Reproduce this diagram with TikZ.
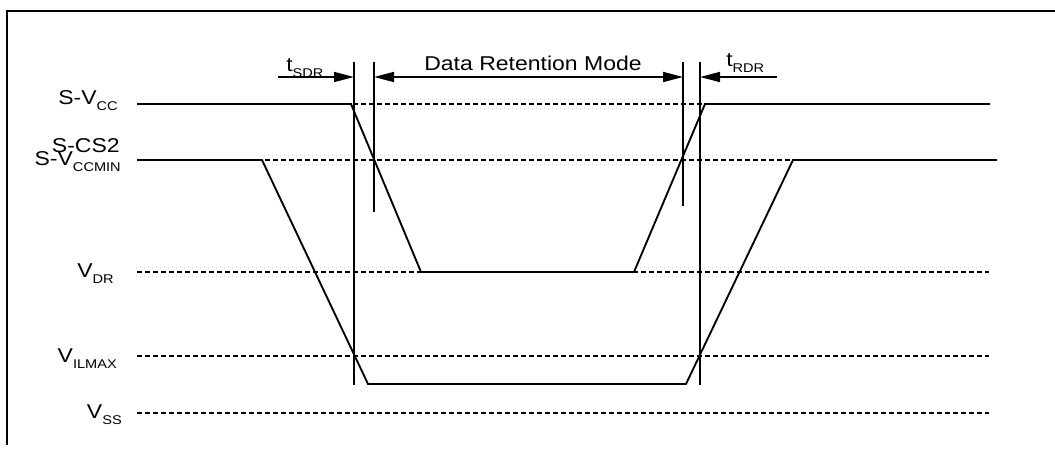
\documentclass[tikz,border=0pt]{standalone}
\usepackage{fontspec}
\setmainfont{Liberation Sans}[FakeStretch=1.15]
\usetikzlibrary{arrows.meta}
\newcommand\lsub[1]{\raisebox{-4.5pt}{\fontsize{9.5pt}{10pt}\selectfont #1}}
\begin{document}
\begin{tikzpicture}[x=0.75pt,y=-0.75pt,
  sig/.style={line width=1.4pt},
  refl/.style={line width=1.3pt, dash pattern=on 3.75pt off 2.25pt},
  vline/.style={line width=1.4pt},
  lab/.style={anchor=base east, inner sep=0pt, font=\fontsize{15pt}{18pt}\selectfont},
  toplab/.style={anchor=base, inner sep=0pt, font=\fontsize{15pt}{18pt}\selectfont},
  tip/.tip={Triangle[length=15pt,width=7.5pt]},
  arr/.style={line width=1.2pt,-tip},
  darr/.style={line width=1.2pt,tip-tip}]
\useasboundingbox (0,0) rectangle (1055,449);
% frame
\coordinate (fr1) at (1055,11);
\coordinate (fr2) at (7,11);
\coordinate (fr3) at (7,445);
\draw[line width=1.6pt] (fr1) -- (fr2) -- (fr3);

% reference levels
\foreach \n/\y in {vcc/104, vccmin/160, vdr/272, vil/356, vss/413}{
  \coordinate (\n L) at (137,\y);
  \coordinate (\n R) at (989,\y);
  \draw[refl] (\n L) -- (\n R);
}

% signal S-VCC
\coordinate (a1) at (351,104);
\coordinate (a2) at (421,272);
\coordinate (a3) at (634,272);
\coordinate (a4) at (705,104);
\coordinate (a5) at (990,104);
\draw[sig] (vccL) -- (a1) -- (a2) -- (a3) -- (a4) -- (a5);

% signal S-CS2 / S-VCCMIN
\coordinate (b1) at (262,160);
\coordinate (b2) at (368,384);
\coordinate (b3) at (686,384);
\coordinate (b4) at (793,160);
\coordinate (b5) at (997,160);
\draw[sig] (vccminL) -- (b1) -- (b2) -- (b3) -- (b4) -- (b5);

% timing verticals
\coordinate (v1t) at (354,62);  \coordinate (v1b) at (354,385);
\coordinate (v2t) at (374,62);  \coordinate (v2b) at (374,212);
\coordinate (v3t) at (683,62);  \coordinate (v3b) at (683,206);
\coordinate (v4t) at (700,62);  \coordinate (v4b) at (700,385);
\draw[vline] (v1t) -- (v1b);
\draw[vline] (v2t) -- (v2b);
\draw[vline] (v3t) -- (v3b);
\draw[vline] (v4t) -- (v4b);

% arrows
\coordinate (s0) at (278,77);
\coordinate (s1) at (354,77);
\coordinate (d0) at (374,77);
\coordinate (d1) at (683,77);
\coordinate (r0) at (777,77);
\coordinate (r1) at (700,77);
\draw[arr] (s0) -- (s1);
\draw[darr] (d0) -- (d1);
\draw[arr] (r0) -- (r1);

% top labels
\node[toplab, anchor=base west] (tsdr) at (286,72) {t\lsub{SDR}};
\node[toplab] (drm) at (533,71) {Data Retention Mode};
\node[toplab, anchor=base west] (trdr) at (726,67) {t\lsub{RDR}};

% level labels
\node[lab] (lvcc) at (118,105) {S-V\lsub{CC}};
\node[lab] (lcs2) at (120,152) {S-CS2};
\node[lab] (lvccmin) at (121,166) {S-V\lsub{CCMIN}};
\node[lab] (lvdr) at (114,277) {V\lsub{DR}};
\node[lab] (lvil) at (117,362) {V\lsub{ILMAX}};
\node[lab] (lvss) at (122,418) {V\lsub{SS}};
\end{tikzpicture}
\end{document}
